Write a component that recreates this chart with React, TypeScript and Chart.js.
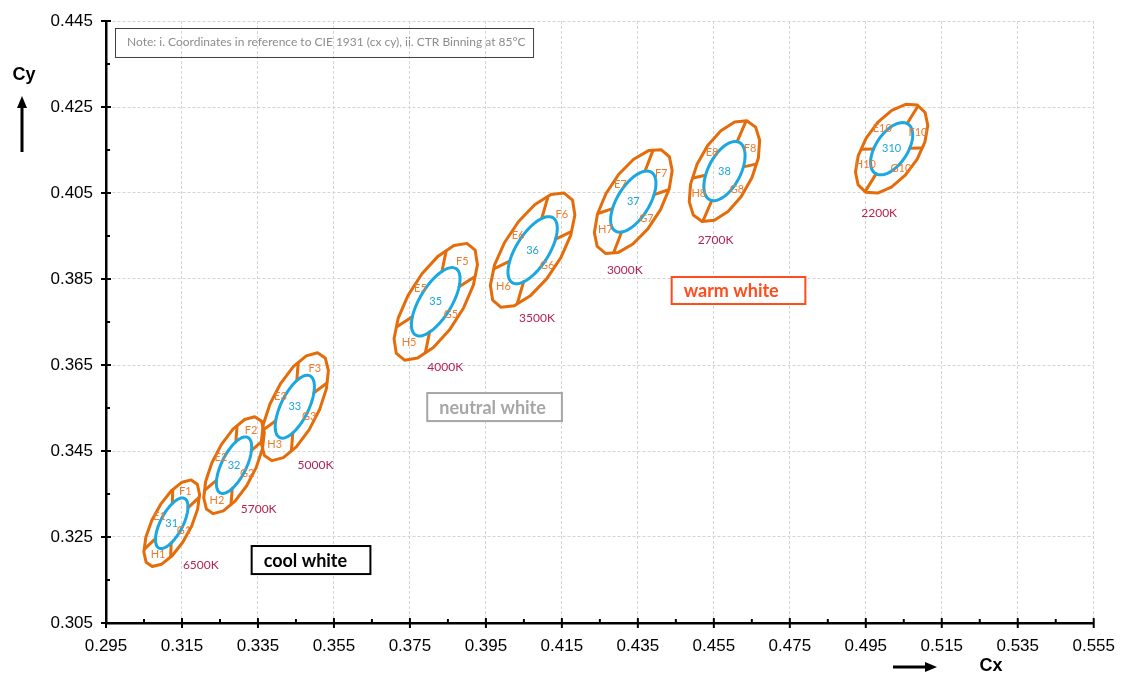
import { useEffect, useRef } from "react";
import { Chart, registerables } from "chart.js";

Chart.register(...registerables);

// ANSI bins: centre point and 1-step MacAdam ellipse (a, b, angle in degrees)
const binNames = ["31", "32", "33", "35", "36", "37", "38", "310"];
const binSuffix = ["1", "2", "3", "5", "6", "7", "8", "10"];
const cctNames = ["6500K", "5700K", "5000K", "4000K", "3500K", "3000K", "2700K", "2200K"];
const centerX = [0.3123, 0.3287, 0.3447, 0.3818, 0.4073, 0.4338, 0.4578, 0.5018];
const centerY = [0.3282, 0.3417, 0.3553, 0.3797, 0.3917, 0.403, 0.4101, 0.4153];
const ellipseA = [0.00223, 0.00247, 0.00274, 0.00313, 0.00309, 0.00278, 0.00258, 0.0024];
const ellipseB = [0.00095, 0.00105, 0.00118, 0.00134, 0.00138, 0.00136, 0.00137, 0.00133];
const ellipseAngle = [58.23, 59.37, 59.62, 54.0, 52.93, 53.22, 57.28, 50];
// directions of the quadrant dividers (data space, degrees)
const locusAngle = [40, 37, 33, 29.5, 23, 16.5, 11, 1];
const isothermAngle = [88, 85, 85, 77, 72, 66.5, 64, 55];
// where the CCT captions sit
const cctLabelX = [0.31995, 0.33518, 0.35015, 0.38429, 0.40845, 0.43156, 0.45545, 0.49852];
const cctLabelY = [0.31846, 0.3315, 0.34174, 0.36452, 0.37592, 0.38709, 0.39407, 0.40034];

const xMajorTicks = [0.295, 0.315, 0.335, 0.355, 0.375, 0.395, 0.415, 0.435, 0.455, 0.475, 0.495, 0.515, 0.535, 0.555];
const yMajorTicks = [0.305, 0.325, 0.345, 0.365, 0.385, 0.405, 0.425, 0.445];

// text boxes: [x1, y1, x2, y2] in chart units
const noteText = "Note: i. Coordinates in reference to CIE 1931 (cx cy), ii. CTR Binning at 85°C";
const noteBox = [0.29736, 0.44337, 0.4074, 0.43663];
const zoneNames = ["cool white", "neutral white", "warm white"];
const zoneBoxes = [
  [0.33334, 0.3229, 0.3646, 0.31638],
  [0.37956, 0.35848, 0.41501, 0.35196],
  [0.4439, 0.38546, 0.47909, 0.37918],
];
const zoneColors = ["#000000", "#a6a6a6", "#ff4c1c"];

const withMinor = (majors: number[]) => {
  const out: number[] = [];
  majors.forEach((v, i) => {
    out.push(v);
    if (i < majors.length - 1) out.push((v + majors[i + 1]) / 2);
  });
  return out;
};
const isMajor = (v: number, majors: number[]) => majors.some((m) => Math.abs(m - v) < 1e-6);

const ORANGE = "#e46c0a";
const BLUE = "#1ba7df";
const rad = (d: number) => (d * Math.PI) / 180;

const binPlugin = {
  id: "bins",
  afterDatasetsDraw(chart: any) {
    const { ctx } = chart;
    const xs = chart.scales.x;
    const ys = chart.scales.y;
    const P = (dx: number, dy: number) => [xs.getPixelForValue(dx), ys.getPixelForValue(dy)];
    ctx.save();
    ctx.lineJoin = "round";
    ctx.lineCap = "round";
    binNames.forEach((name, i) => {
      const cx = centerX[i];
      const cy = centerY[i];
      const th = rad(ellipseAngle[i]);
      const pt = (A: number, B: number, t: number) =>
        P(
          cx + A * Math.cos(t) * Math.cos(th) - B * Math.sin(t) * Math.sin(th),
          cy + A * Math.cos(t) * Math.sin(th) + B * Math.sin(t) * Math.cos(th)
        );
      const radius = (A: number, B: number, phi: number) => {
        const psi = phi - th;
        return 1 / Math.sqrt((Math.cos(psi) / A) ** 2 + (Math.sin(psi) / B) ** 2);
      };
      const a3 = 3 * ellipseA[i];
      const b3 = 3 * ellipseB[i];
      const a5 = 5 * ellipseA[i];
      const b5 = 5 * ellipseB[i];

      // outer 5-step outline (faceted)
      ctx.strokeStyle = ORANGE;
      ctx.lineWidth = 3;
      ctx.beginPath();
      const n = 16;
      for (let k = 0; k < n; k++) {
        const [px, py] = pt(a5 * 1.03, b5 * 1.03, ((k + 0.5) * 2 * Math.PI) / n);
        if (k === 0) ctx.moveTo(px, py);
        else ctx.lineTo(px, py);
      }
      ctx.closePath();
      ctx.stroke();

      // quadrant dividers
      const dirs = [locusAngle[i], locusAngle[i] + 180, isothermAngle[i], isothermAngle[i] + 180];
      dirs.forEach((d) => {
        const phi = rad(d);
        const r1 = radius(a3, b3, phi);
        const r2 = radius(a5, b5, phi);
        const [x1, y1] = P(cx + r1 * Math.cos(phi), cy + r1 * Math.sin(phi));
        const [x2, y2] = P(cx + r2 * Math.cos(phi), cy + r2 * Math.sin(phi));
        ctx.beginPath();
        ctx.moveTo(x1, y1);
        ctx.lineTo(x2, y2);
        ctx.stroke();
      });

      // inner 3-step ellipse
      ctx.strokeStyle = BLUE;
      ctx.lineWidth = 3;
      ctx.beginPath();
      for (let k = 0; k <= 72; k++) {
        const [px, py] = pt(a3, b3, (k * 2 * Math.PI) / 72);
        if (k === 0) ctx.moveTo(px, py);
        else ctx.lineTo(px, py);
      }
      ctx.closePath();
      ctx.stroke();

      // labels
      ctx.textAlign = "center";
      ctx.textBaseline = "middle";
      ctx.font = "11px Lato, sans-serif";
      ctx.fillStyle = BLUE;
      const [ccx, ccy] = P(cx, cy);
      ctx.fillText(name, ccx, ccy);

      const L = locusAngle[i];
      const I = isothermAngle[i];
      const quads = [
        ["E", (I + L + 180) / 2],
        ["F", (I + L) / 2],
        ["G", (I + L + 180) / 2 + 180],
        ["H", (I + L) / 2 + 180],
      ] as [string, number][];
      ctx.fillStyle = "#ea7d30";
      quads.forEach(([q, d]) => {
        const phi = rad(d);
        const r = radius(a3, b3, phi) * 1.25;
        const [lx, ly] = P(cx + r * Math.cos(phi), cy + r * Math.sin(phi));
        ctx.fillText(q + binSuffix[i], lx, ly);
      });

      ctx.font = "12px Lato, sans-serif";
      ctx.fillStyle = "#b4234f";
      const [tx, ty] = P(cctLabelX[i], cctLabelY[i]);
      ctx.fillText(cctNames[i], tx, ty);
    });
    ctx.restore();
  },
  afterDraw(chart: any) {
    const { ctx, chartArea } = chart;
    const xs = chart.scales.x;
    const ys = chart.scales.y;
    ctx.save();

    // tick marks crossing the axes (major both sides, minor inside only)
    ctx.strokeStyle = "#000";
    ctx.lineWidth = 2;
    withMinor(xMajorTicks).forEach((v) => {
      const px = xs.getPixelForValue(v);
      const major = isMajor(v, xMajorTicks);
      ctx.beginPath();
      ctx.moveTo(px, chartArea.bottom + (major ? 5 : 0));
      ctx.lineTo(px, chartArea.bottom - (major ? 5 : 4));
      ctx.stroke();
    });
    withMinor(yMajorTicks).forEach((v) => {
      const py = ys.getPixelForValue(v);
      const major = isMajor(v, yMajorTicks);
      ctx.beginPath();
      ctx.moveTo(chartArea.left - (major ? 5 : 0), py);
      ctx.lineTo(chartArea.left + (major ? 5 : 4), py);
      ctx.stroke();
    });

    // note box
    {
      const [x1, y1, x2, y2] = noteBox;
      const l = xs.getPixelForValue(x1);
      const t = ys.getPixelForValue(y1);
      const r = xs.getPixelForValue(x2);
      const b = ys.getPixelForValue(y2);
      ctx.strokeStyle = "#404040";
      ctx.lineWidth = 1;
      ctx.strokeRect(Math.round(l) + 0.5, Math.round(t) + 0.5, r - l, b - t);
      ctx.fillStyle = "#8c8c8c";
      ctx.font = "12px Lato, sans-serif";
      ctx.textAlign = "left";
      ctx.textBaseline = "middle";
      ctx.fillText(noteText, l + 12, (t + b) / 2);
    }
    // zone boxes
    zoneNames.forEach((name, i) => {
      const [x1, y1, x2, y2] = zoneBoxes[i];
      const l = xs.getPixelForValue(x1);
      const t = ys.getPixelForValue(y1);
      const r = xs.getPixelForValue(x2);
      const b = ys.getPixelForValue(y2);
      ctx.fillStyle = "#ffffff";
      ctx.fillRect(l, t, r - l, b - t);
      ctx.strokeStyle = zoneColors[i];
      ctx.lineWidth = 2;
      ctx.strokeRect(l, t, r - l, b - t);
      ctx.fillStyle = zoneColors[i];
      ctx.font = "bold 18px Lato, sans-serif";
      ctx.textAlign = "left";
      ctx.textBaseline = "middle";
      ctx.fillText(name, l + 12, (t + b) / 2 + 1);
    });

    // axis captions with arrows
    ctx.fillStyle = "#000";
    ctx.strokeStyle = "#000";
    ctx.font = "bold 18px 'Liberation Sans', Arial, sans-serif";
    ctx.textAlign = "center";
    ctx.textBaseline = "middle";
    ctx.fillText("Cy", 24, 75);
    ctx.lineWidth = 3;
    ctx.beginPath();
    ctx.moveTo(22, 152);
    ctx.lineTo(22, 106);
    ctx.stroke();
    ctx.beginPath();
    ctx.moveTo(22, 96);
    ctx.lineTo(17, 108);
    ctx.lineTo(27, 108);
    ctx.closePath();
    ctx.fill();

    ctx.fillText("Cx", 991, 666);
    ctx.beginPath();
    ctx.moveTo(893, 667);
    ctx.lineTo(926, 667);
    ctx.stroke();
    ctx.beginPath();
    ctx.moveTo(937, 667);
    ctx.lineTo(925, 662);
    ctx.lineTo(925, 672);
    ctx.closePath();
    ctx.fill();
    ctx.restore();
  },
};

export default function App() {
  const chartRef = useRef<HTMLCanvasElement>(null);
  const chartInstance = useRef<Chart | null>(null);

  useEffect(() => {
    document.body.style.margin = "0";
    if (!chartRef.current) return;
    if (chartInstance.current) chartInstance.current.destroy();

    const tickFont = { family: "'Liberation Sans', Arial, sans-serif", size: 17 };

    chartInstance.current = new Chart(chartRef.current, {
      type: "scatter",
      data: {
        datasets: [
          {
            label: "bin centres",
            data: centerX.map((x, i) => ({ x, y: centerY[i] })),
            pointRadius: 0,
            showLine: false,
          },
        ],
      },
      options: {
        responsive: true,
        maintainAspectRatio: false,
        animation: false,
        layout: { padding: { left: 0, top: 21, right: 27, bottom: 0 } },
        plugins: {
          legend: { display: false },
          tooltip: { enabled: false },
        },
        scales: {
          x: {
            type: "linear",
            min: 0.295,
            max: 0.555,
            afterBuildTicks: (scale: any) => {
              scale.ticks = withMinor(xMajorTicks).map((value) => ({ value }));
            },
            afterFit: (scale: any) => {
              scale.height = 52;
            },
            grid: {
              color: (c: any) => (c.tick && isMajor(c.tick.value, xMajorTicks) ? "#d4d4d4" : "rgba(0,0,0,0)"),
              tickColor: "rgba(0,0,0,0)",
              tickLength: 5,
            },
            border: { color: "#000", width: 2.5, dash: [3, 2] },
            ticks: {
              autoSkip: false,
              maxRotation: 0,
              padding: 8,
              color: "#000",
              font: tickFont,
              callback: (v: any) => (isMajor(Number(v), xMajorTicks) ? Number(v).toFixed(3) : ""),
            },
          },
          y: {
            type: "linear",
            min: 0.305,
            max: 0.445,
            afterBuildTicks: (scale: any) => {
              scale.ticks = withMinor(yMajorTicks).map((value) => ({ value }));
            },
            afterFit: (scale: any) => {
              scale.width = 106;
            },
            grid: {
              color: (c: any) => (c.tick && isMajor(c.tick.value, yMajorTicks) ? "#d4d4d4" : "rgba(0,0,0,0)"),
              tickColor: "rgba(0,0,0,0)",
              tickLength: 5,
            },
            border: { color: "#000", width: 2.5, dash: [3, 2] },
            ticks: {
              autoSkip: false,
              padding: 8,
              color: "#000",
              font: tickFont,
              callback: (v: any) => (isMajor(Number(v), yMajorTicks) ? Number(v).toFixed(3) : ""),
            },
          },
        },
      },
      plugins: [binPlugin],
    });

    return () => {
      if (chartInstance.current) {
        chartInstance.current.destroy();
        chartInstance.current = null;
      }
    };
  }, []);

  return (
    <div style={{ width: 1123, height: 675, position: "relative", background: "#fff" }}>
      <canvas ref={chartRef}></canvas>
    </div>
  );
}
